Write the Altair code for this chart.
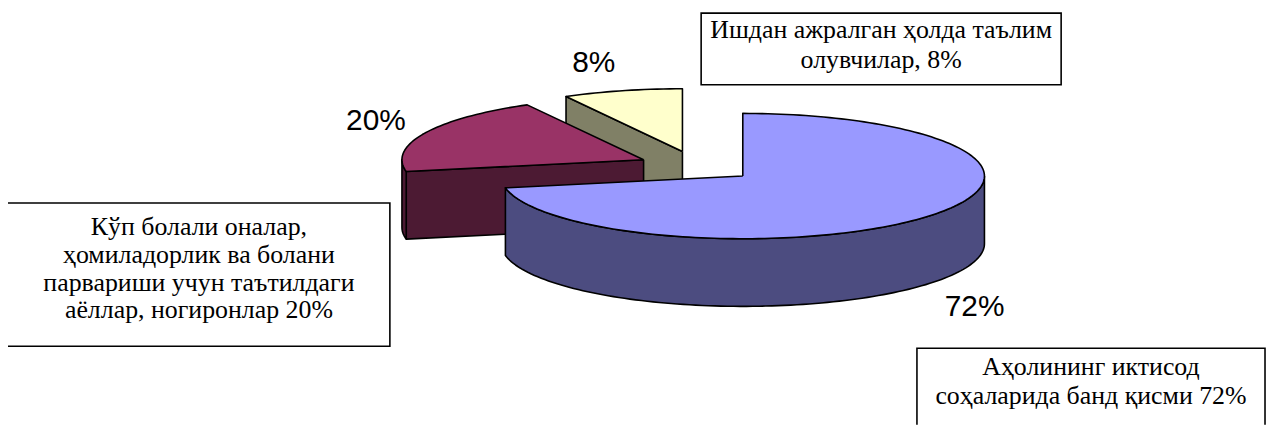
import altair as alt
import numpy as np
import pandas as pd

# ---------------- data ----------------
categories = [
    "Аҳолининг иктисод соҳаларида банд қисми",
    "Кўп болали оналар, ҳомиладорлик ва болани парвариши учун таътилдаги аёллар, ногиронлар",
    "Ишдан ажралган ҳолда таълим олувчилар",
]
values = [72, 20, 8]
pct_labels = ["72%", "20%", "8%"]
box_lines = [
    ["Аҳолининг иктисод", "соҳаларида банд қисми 72%"],
    ["Кўп болали оналар,", "ҳомиладорлик ва болани", "парвариши учун таътилдаги", "аёллар, ногиронлар 20%"],
    ["Ишдан ажралган ҳолда таълим", "олувчилар, 8%"],
]

# ---------------- styles / layout ----------------
top_colors = ["#9999FF", "#993366", "#FFFFCC"]
side_colors = ["#4C4C80", "#4C1A33", "#808066"]
CX, CY = 701.0, 166.0          # pie centre (chart units)
RX, RY = 243.0, 63.0           # ellipse radii of the tilted pie
DEPTH = 68.0                   # thickness of the pie
EXPLODE = 0.245                # explosion as fraction of radius
label_pos = [(980, 317), (378, 130), (597, 71)]          # percent label anchors (baseline)
box_rects = [(922, 349, 1272, 470), (7, 203, 392, 347), (705, 12, 1067, 84)]
box_text = [(1097, 376, 29), (200, 235, 28), (886, 37, 30)]  # centre x, first baseline, line step

W, H = 1266, 418
X0, Y0 = 8, 8

# ---------------- 3D pie geometry derived from the values ----------------
total = float(sum(values))
fr = np.array(values, dtype=float) / total
ends = np.cumsum(fr) * 360.0
starts = ends - fr * 360.0


def rim(ax, ay, deg, dz=0.0):
    t = np.radians(deg)
    return ax + RX * np.sin(t), ay - RY * np.cos(t) + dz


rows = []
draw = []  # (face_id, color, depth-key)
slices = []
for i in range(len(values)):
    s, e = starts[i], ends[i]
    mid = np.radians((s + e) / 2)
    ax = CX + EXPLODE * RX * np.sin(mid)
    ay = CY - EXPLODE * RY * np.cos(mid)
    slices.append((ay, i, s, e, ax))

face_order = []
for ay, i, s, e, ax in sorted(slices):
    faces = []
    # cut face at the start angle
    n = np.radians(s - 90)
    if np.cos(n) < -1e-6:
        p1 = rim(ax, ay, s)
        p2 = rim(ax, ay, s, DEPTH)
        faces.append(("cutS%d" % i, side_colors[i], [(ax, ay), p1, p2, (ax, ay + DEPTH), (ax, ay)]))
    # cut face at the end angle
    n = np.radians(e + 90)
    if np.cos(n) < -1e-6:
        p1 = rim(ax, ay, e)
        p2 = rim(ax, ay, e, DEPTH)
        faces.append(("cutE%d" % i, side_colors[i], [(ax, ay), p1, p2, (ax, ay + DEPTH), (ax, ay)]))
    # outer wall, front part only
    lo, hi = max(s, 90.0), min(e, 270.0)
    if hi > lo:
        k = max(2, int((hi - lo) / 1.5) + 1)
        angs = np.linspace(lo, hi, k)
        pts = [rim(ax, ay, a) for a in angs] + [rim(ax, ay, a, DEPTH) for a in angs[::-1]]
        pts.append(pts[0])
        faces.append(("wall%d" % i, side_colors[i], pts))
    # top face
    k = max(2, int((e - s) / 1.5) + 1)
    angs = np.linspace(s, e, k)
    pts = [(ax, ay)] + [rim(ax, ay, a) for a in angs] + [(ax, ay)]
    faces.append(("top%d" % i, top_colors[i], pts))
    for fid, col, pts in faces:
        face_order.append((fid, col))
        for j, (x, y) in enumerate(pts):
            rows.append({"face": fid, "seq": j, "x": float(x), "y": float(y)})

faces_df = pd.DataFrame(rows)

xs = alt.Scale(domain=[X0, X0 + W], nice=False, zero=False)
ys = alt.Scale(domain=[Y0, Y0 + H], nice=False, zero=False, reverse=True)

layers = []

# text boxes
box_df = pd.DataFrame(
    [{"x": b[0], "y": b[1], "x2": b[2], "y2": b[3], "cat": categories[i]} for i, b in enumerate(box_rects)]
)
layers.append(
    alt.Chart(box_df)
    .mark_rect(fill="white", stroke="black", strokeWidth=1.6, clip=True)
    .encode(
        x=alt.X("x:Q", scale=xs, axis=None),
        x2="x2:Q",
        y=alt.Y("y:Q", scale=ys, axis=None),
        y2="y2:Q",
    )
)

for fid, col in face_order:
    layers.append(
        alt.Chart(faces_df)
        .transform_filter(alt.datum.face == fid)
        .mark_line(fill=col, stroke="black", strokeWidth=1.6, strokeJoin="round")
        .encode(
            x=alt.X("x:Q", scale=xs, axis=None),
            y=alt.Y("y:Q", scale=ys, axis=None),
            order=alt.Order("seq:Q"),
        )
    )

lab_df = pd.DataFrame(
    [{"t": pct_labels[i], "x": label_pos[i][0], "y": label_pos[i][1]} for i in range(len(values))]
)
layers.append(
    alt.Chart(lab_df)
    .mark_text(font="Liberation Sans", fontSize=30, color="black", align="center", baseline="alphabetic")
    .encode(x=alt.X("x:Q", scale=xs, axis=None), y=alt.Y("y:Q", scale=ys, axis=None), text="t:N")
)

trows = []
for i, lines in enumerate(box_lines):
    cx, by, step = box_text[i]
    for j, ln in enumerate(lines):
        trows.append({"t": ln, "x": cx, "y": by + j * step})
txt_df = pd.DataFrame(trows)
layers.append(
    alt.Chart(txt_df)
    .mark_text(font="Liberation Serif", fontSize=26, color="black", align="center", baseline="alphabetic")
    .encode(x=alt.X("x:Q", scale=xs, axis=None), y=alt.Y("y:Q", scale=ys, axis=None), text="t:N")
)

chart = (
    alt.layer(*layers)
    .properties(width=W, height=H, padding=0, autosize=alt.AutoSizeParams(type="none"))
    .configure_view(stroke=None)
)

chart.save("out.html", embed_options={"renderer": "svg", "actions": False})
